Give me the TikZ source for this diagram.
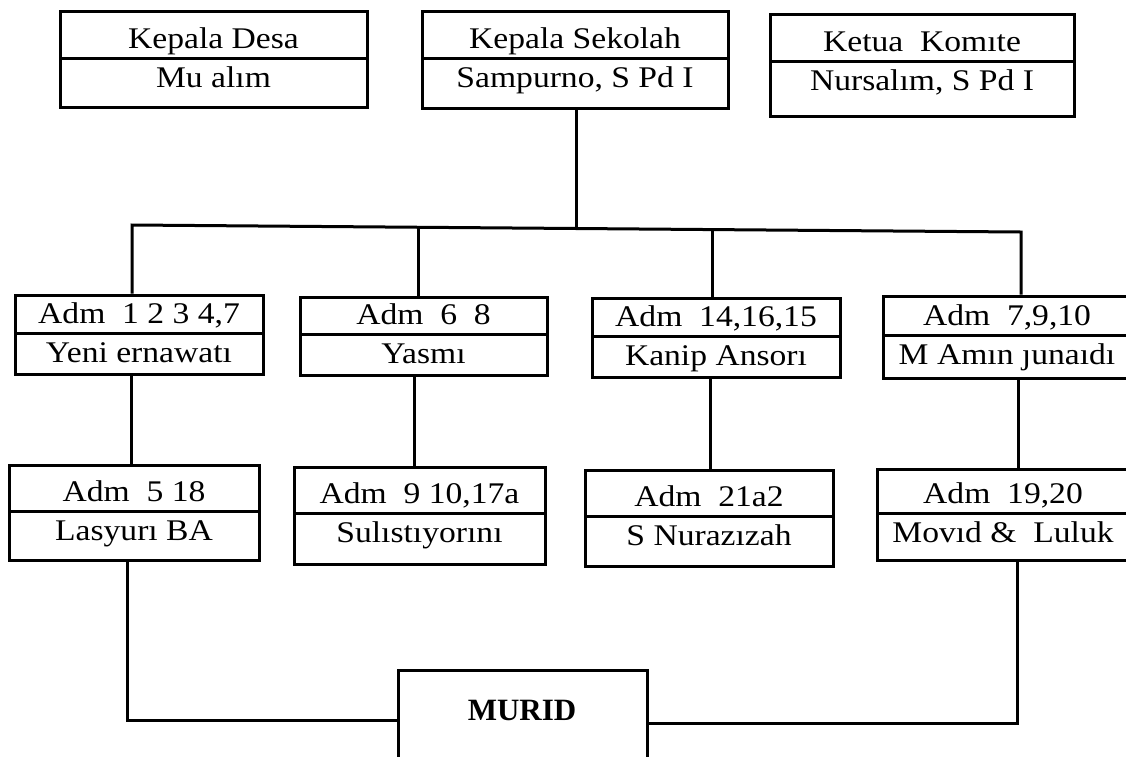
\documentclass[tikz,border=0pt]{standalone}
\usepackage{fontspec}
\setmainfont{Liberation Serif}
\newfontfamily\boxfont[FakeStretch=1.12]{Liberation Serif}
\tikzset{
  boxshape/.style={draw=black, line width=3pt, rectangle, inner sep=0pt, fill=white},
  divline/.style={draw=black, line width=3pt},
  conn/.style={draw=black, line width=3pt, line join=miter},
  boxtext/.style={anchor=base, inner sep=0pt, font=\boxfont\fontsize{30}{35}\selectfont},
  muridtext/.style={anchor=base, inner sep=0pt, font=\bfseries\fontsize{31}{37}\selectfont}
}
% #1 name, #2 left, #3 top, #4 right, #5 bottom, #6 divider y, #7 upper text, #8 lower text
\newcommand{\orgbox}[8]{%
  \node[boxshape, minimum width={#4-#2}, minimum height={#5-#3}] (#1) at ({(#2+#4)/2},{(#3+#5)/2}) {};
  \draw[divline] (#2,#6) -- (#4,#6);
  \node[boxtext] (#1-a) at ({(#2+#4)/2},{#6-10}) {#7};
  \node[boxtext] (#1-b) at ({(#2+#4)/2},{#6+29}) {#8};
}
\begin{document}
\begin{tikzpicture}[x=1pt,y=-1pt]
\clip (0,0) rectangle (1126,756);
\fill[white] (0,0) rectangle (1126,756);

% top row
\orgbox{kd}{60}{11}{367}{107}{58}{Kepala Desa}{Mu alım}
\orgbox{ks}{422}{11}{728}{108}{58}{Kepala Sekolah}{Sampurno, S Pd I}
\orgbox{kk}{770}{14}{1074}{116}{61}{Ketua\ \ Komıte}{Nursalım, S Pd I}

% level 1
\orgbox{b1}{15}{295}{263}{374}{333}{Adm\ \ 1 2 3 4,7}{Yeni ernawatı}
\orgbox{b2}{300}{297}{547}{375}{334}{Adm\ \ 6\ \ 8}{Yasmı}
\orgbox{b3}{592}{298}{840}{377}{336}{Adm\ \ 14,16,15}{Kanip Ansorı}
\orgbox{b4}{883}{296}{1131}{378}{335}{Adm\ \ 7,9,10}{M Amın ȷunaıdı}

% level 2
\orgbox{b5}{9}{465}{259}{560}{511}{Adm\ \ 5 18}{Lasyurı BA}
\orgbox{b6}{294}{467}{545}{564}{513}{Adm\ \ 9 10,17a}{Sulıstıyorını}
\orgbox{b7}{585}{470}{833}{566}{516}{Adm\ \ 21a2}{S Nurazızah}
\orgbox{b8}{877}{469}{1129}{560}{513}{Adm\ \ 19,20}{Movıd \&\ \ Luluk}

% MURID
\node[boxshape, minimum width=249, minimum height=130] (murid) at (522.5,735) {};
\node[muridtext] (muridtxt) at (522,720) {MURID};

% bus coordinates
\coordinate (j1) at (132,225);
\coordinate (j2) at (418,227.3);
\coordinate (jk) at (576,228.5);
\coordinate (j3) at (712,229.6);
\coordinate (j4) at (1021,232);

\draw[conn] (j1 |- b1.north) -- (j1) -- (j4) -- (j4 |- b4.north);
\draw[conn] (ks.south -| jk) -- (jk);
\draw[conn] (j2) -- (j2 |- b2.north);
\draw[conn] (j3) -- (j3 |- b3.north);

% level 1 to level 2
\coordinate (c1) at (131,0);
\coordinate (c2) at (414,0);
\coordinate (c3) at (710,0);
\coordinate (c4) at (1018,0);
\draw[conn] (b1.south -| c1) -- (b5.north -| c1);
\draw[conn] (b2.south -| c2) -- (b6.north -| c2);
\draw[conn] (b3.south -| c3) -- (b7.north -| c3);
\draw[conn] (b4.south -| c4) -- (b8.north -| c4);

% to MURID
\coordinate (cL) at (127,0);
\coordinate (cR) at (1017,0);
\coordinate (yL) at (0,720);
\coordinate (yR) at (0,723);
\draw[conn] (b5.south -| cL) |- (murid.west |- yL);
\draw[conn] (murid.east |- yR) -| (b8.south -| cR);
\end{tikzpicture}
\end{document}
